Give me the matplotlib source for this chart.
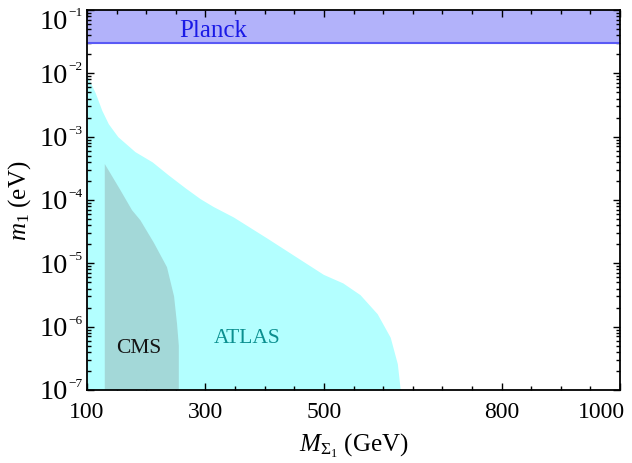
"""Collider and Planck bounds on the lightest neutrino mass vs triplet mass."""

import matplotlib

matplotlib.use("Agg")

import matplotlib.pyplot as plt
import matplotlib.ticker as mticker
from matplotlib.transforms import ScaledTranslation, offset_copy

plt.rcParams["font.family"] = ["Liberation Serif", "DejaVu Serif"]
plt.rcParams["mathtext.fontset"] = "custom"
plt.rcParams["mathtext.rm"] = "Liberation Serif"
plt.rcParams["mathtext.it"] = "Liberation Serif:italic"
plt.rcParams["mathtext.bf"] = "Liberation Serif:bold"

# ATLAS excluded region: upper boundary (M_Sigma in GeV, m1 in eV)
atlas_mass = [100, 114, 125, 136, 152, 181, 210, 237, 266, 291, 313, 347,
              404, 460, 499, 532, 561, 590, 612, 624, 629]
atlas_m1 = [9.3e-3, 4.9e-3, 2.6e-3, 1.6e-3, 1.0e-3, 5.8e-4, 4.0e-4, 2.5e-4,
            1.55e-4, 1.05e-4, 7.9e-5, 5.4e-5, 2.5e-5, 1.15e-5, 6.7e-6,
            4.9e-6, 3.2e-6, 1.6e-6, 6.8e-7, 2.6e-7, 1e-7]

# CMS excluded region: outline
cms_mass = [130, 130, 156, 176, 190, 213, 235, 247, 252, 255, 255]
cms_m1 = [1e-7, 3.7e-4, 1.45e-4, 6.9e-5, 4.8e-5, 2.1e-5, 8.7e-6, 3.0e-6,
          1.1e-6, 5e-7, 1e-7]

# Planck bound on m1 (eV)
planck_limit = 0.03

x_ticks = [100, 300, 500, 800, 1000]
y_exponents = [-7, -6, -5, -4, -3, -2, -1]
x_range = (100, 1000)
y_range = (1e-7, 1e-1)

fig = plt.figure(figsize=(6.32, 4.63), dpi=100)
ax = fig.add_axes([0.1377, 0.1577, 0.8433, 0.8207])

ax.set_yscale("log")

ax.fill_between(atlas_mass, y_range[0], atlas_m1, color="#b3ffff", lw=0, zorder=1)
ax.fill(cms_mass, cms_m1, color="#a3d8d8", lw=0, zorder=2)

ax.axhspan(planck_limit, y_range[1], color="#b2b2fa", lw=0, zorder=1)
ax.axhline(planck_limit, color="#5a5af5", lw=1.5, zorder=3)

ax.text(313, 4.6e-2, "Planck", color="#1a1ae6", fontsize=18,
        ha="center", va="center")
ax.text(370, 6.6e-7, "ATLAS", color="#0a8f8f", fontsize=15.5,
        ha="center", va="center")
ax.text(188, 4.6e-7, "CMS", color="#141414", fontsize=15.5,
        ha="center", va="center")

ax.set_xlim(*x_range)
ax.set_ylim(*y_range)

ax.xaxis.set_major_locator(mticker.FixedLocator(x_ticks))
ax.xaxis.set_minor_locator(mticker.MultipleLocator(50))
ax.xaxis.set_major_formatter(mticker.FormatStrFormatter("%d"))
ax.yaxis.set_major_locator(mticker.FixedLocator([10.0 ** e for e in y_exponents]))
ax.yaxis.set_minor_locator(mticker.LogLocator(base=10, subs=range(2, 10), numticks=20))
ax.yaxis.set_minor_formatter(mticker.NullFormatter())
# mantissa as tick label, small exponent drawn beside it
ax.yaxis.set_major_formatter(mticker.FixedFormatter(["10"] * len(y_exponents)))

ax.tick_params(which="both", direction="in", top=True, right=True,
               color="black", width=1.0)
ax.tick_params(which="major", length=5)
ax.tick_params(which="minor", length=3)
ax.tick_params(axis="x", which="major", labelsize=17, pad=9)
ax.tick_params(axis="y", which="major", labelsize=20.5, pad=13.7)

# labels at the frame corners are nudged inside the picture, as in the original
top_shift = 9
for e in y_exponents:
    dy = 6 - top_shift if e == y_exponents[-1] else 6
    exp_trans = offset_copy(ax.get_yaxis_transform(), fig=fig, x=-19, y=dy,
                            units="dots")
    ax.text(0, 10.0 ** e, "\u2212%d" % abs(e), transform=exp_trans,
            fontsize=9.5, ha="left", va="center", clip_on=False)

for spine in ax.spines.values():
    spine.set_linewidth(1.3)
    spine.set_zorder(5)

fig.canvas.draw()
last_x = ax.get_xticklabels()[-1]
last_x.set_transform(last_x.get_transform()
                     + ScaledTranslation(-0.19, 0, fig.dpi_scale_trans))
last_y = ax.get_yticklabels()[-1]
last_y.set_transform(last_y.get_transform()
                     + ScaledTranslation(0, -top_shift / 100, fig.dpi_scale_trans))

ax.set_xlabel(r"$M_{\Sigma_1}$ (GeV)", fontsize=18)
ax.set_ylabel(r"$m_1$ (eV)", fontsize=18)
ax.xaxis.set_label_coords(0.5, -0.11)
ax.yaxis.set_label_coords(-0.101, 0.497)

fig.savefig("out.png", dpi=100)
